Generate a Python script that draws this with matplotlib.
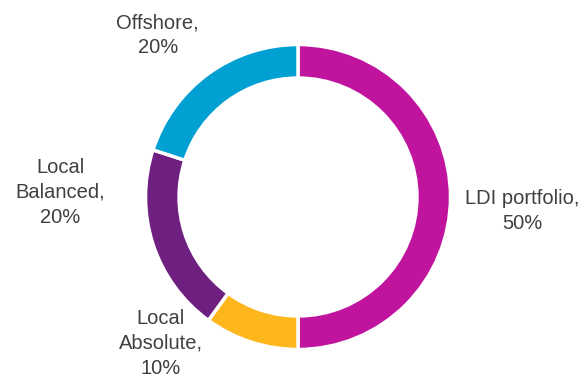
import matplotlib
matplotlib.use("Agg")
import matplotlib.pyplot as plt

# Allocation shares, clockwise from the top
categories = ["LDI portfolio", "Local\nAbsolute", "Local\nBalanced", "Offshore"]
shares = [50, 10, 20, 20]
colors = ["#C0139E", "#FDB71C", "#6E1F7F", "#00A1D2"]

# label anchors in data coords (radius 1 == outer ring edge)
label_xy = [(1.47, -0.09), (-0.90, -0.96), (-1.56, 0.03), (-0.92, 1.06)]

plt.rcParams["font.family"] = ["Liberation Sans", "DejaVu Sans"]

fig = plt.figure(figsize=(5.86, 3.76), dpi=100)
r_px = 152.5
cx, cy = 298, 197
ax = fig.add_axes([(cx - r_px) / 586, (376 - cy - r_px) / 376, 2 * r_px / 586, 2 * r_px / 376])

ax.pie(shares, colors=colors, startangle=90, counterclock=False, radius=1.0,
       wedgeprops=dict(width=0.22, edgecolor="white", linewidth=2.5))
ax.set_xlim(-1, 1)
ax.set_ylim(-1, 1)
ax.set_aspect("equal")
ax.axis("off")

for name, val, (x, y) in zip(categories, shares, label_xy):
    ax.text(x, y, f"{name},\n{val}%", ha="center", va="center", fontsize=14.5,
            color="#404040", linespacing=1.4, clip_on=False)

fig.savefig("out.png", dpi=100)
